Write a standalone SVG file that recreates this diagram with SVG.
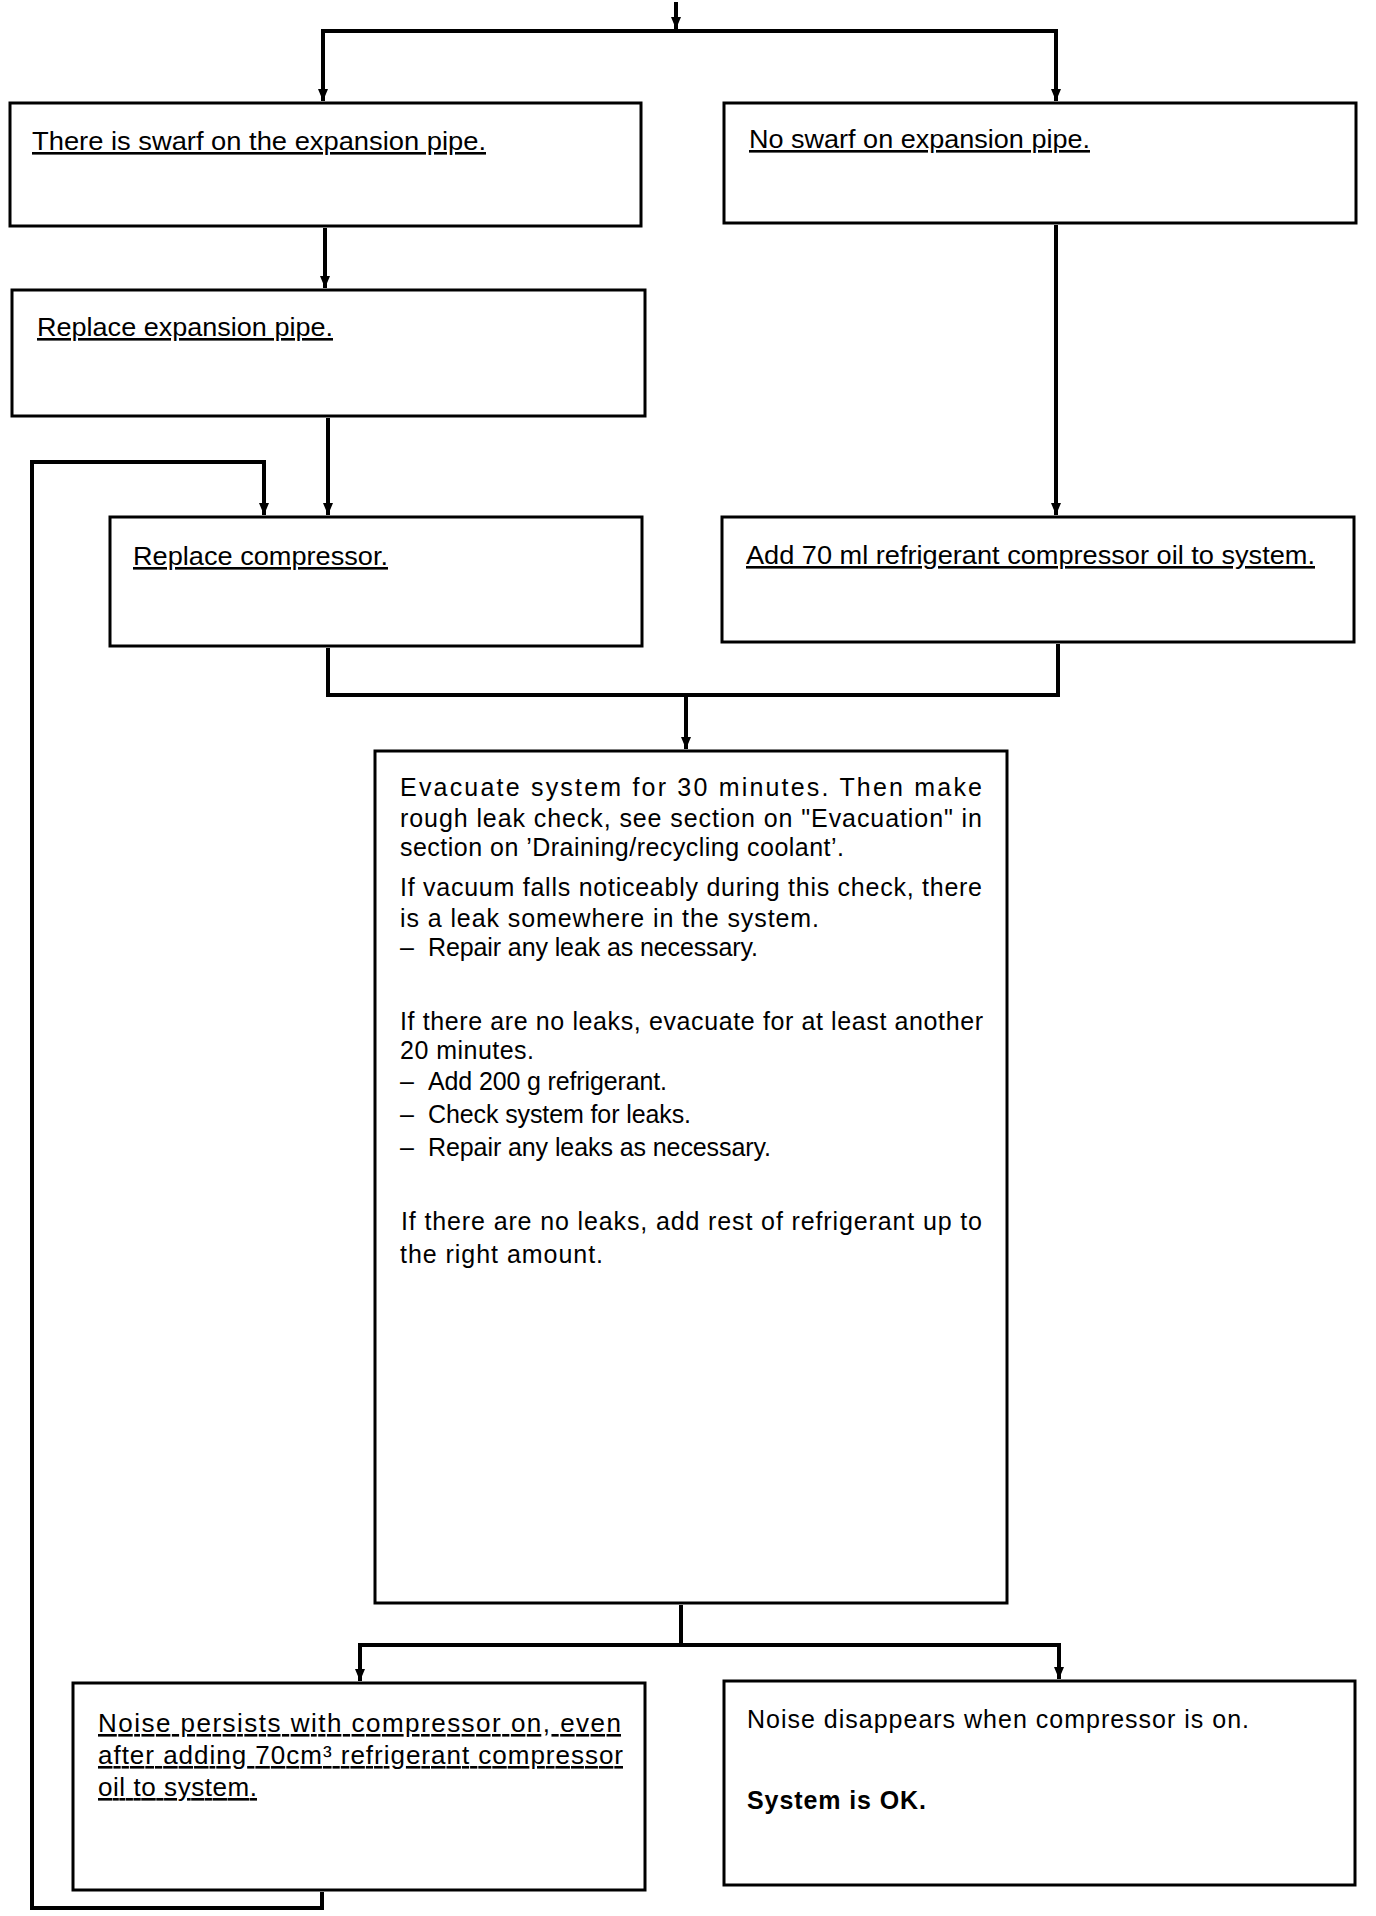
<svg xmlns="http://www.w3.org/2000/svg" width="1376" height="1916" viewBox="0 0 1376 1916">
<style>
.box{fill:#fff;stroke:#000;stroke-width:3}
.con{fill:none;stroke:#000;stroke-width:4;stroke-linejoin:miter}
.h{font-family:"Liberation Sans",Arial,sans-serif;font-size:26px;fill:#000;text-decoration:underline}
.t{font-family:"Liberation Sans",Arial,sans-serif;font-size:25px;fill:#000}
.b{font-weight:bold}
</style>
<defs>
<marker id="ah" viewBox="0 0 12 10" refX="12" refY="5" markerWidth="12" markerHeight="10" markerUnits="userSpaceOnUse" orient="auto">
<path d="M0,0 L12,5 L0,10 z" fill="#000"/>
</marker>
</defs>
<rect width="1376" height="1916" fill="#fff"/>
<g id="connectors">
<path class="con" d="M676,2 V29" marker-end="url(#ah)"/>
<path class="con" d="M676,31 H323 V101" marker-end="url(#ah)"/>
<path class="con" d="M676,31 H1056 V101" marker-end="url(#ah)"/>
<path class="con" d="M325,228 V288" marker-end="url(#ah)"/>
<path class="con" d="M328,418 V515" marker-end="url(#ah)"/>
<path class="con" d="M1056,225 V515" marker-end="url(#ah)"/>
<path class="con" d="M328,648 V695 H1058 V644"/>
<path class="con" d="M686,695 V749" marker-end="url(#ah)"/>
<path class="con" d="M681,1605 V1645 H360 V1681" marker-end="url(#ah)"/>
<path class="con" d="M681,1645 H1059 V1679" marker-end="url(#ah)"/>
<path class="con" d="M322,1892 V1908 H32 V462 H264 V515" marker-end="url(#ah)"/>
</g>
<g id="n1">
<rect class="box" x="10" y="103" width="631" height="123"/>
<text class="h" x="32" y="150" textLength="454" lengthAdjust="spacingAndGlyphs">There is swarf on the expansion pipe.</text>
</g>
<g id="n2">
<rect class="box" x="724" y="103" width="632" height="120"/>
<text class="h" x="749" y="148" textLength="341" lengthAdjust="spacingAndGlyphs">No swarf on expansion pipe.</text>
</g>
<g id="n3">
<rect class="box" x="12" y="290" width="633" height="126"/>
<text class="h" x="37" y="336" textLength="296" lengthAdjust="spacingAndGlyphs">Replace expansion pipe.</text>
</g>
<g id="n4">
<rect class="box" x="110" y="517" width="532" height="129"/>
<text class="h" x="133" y="565" textLength="255" lengthAdjust="spacingAndGlyphs">Replace compressor.</text>
</g>
<g id="n5">
<rect class="box" x="722" y="517" width="632" height="125"/>
<text class="h" x="746" y="564" textLength="569" lengthAdjust="spacingAndGlyphs">Add 70 ml refrigerant compressor oil to system.</text>
</g>
<g id="n6">
<rect class="box" x="375" y="751" width="632" height="852"/>
<text class="t" x="400" y="796" textLength="582" lengthAdjust="spacing">Evacuate system for 30 minutes.  Then make</text>
<text class="t" x="400" y="827" textLength="582" lengthAdjust="spacing">rough leak check, see section on "Evacuation" in</text>
<text class="t" x="400" y="856" textLength="444" lengthAdjust="spacing">section on ’Draining/recycling coolant’.</text>
<text class="t" x="400" y="896" textLength="582" lengthAdjust="spacing">If vacuum falls noticeably during this check, there</text>
<text class="t" x="400" y="927" textLength="419" lengthAdjust="spacing">is a leak somewhere in the system.</text>
<text class="t" x="400" y="956">–</text>
<text class="t" x="428" y="956" textLength="330" lengthAdjust="spacing">Repair any leak as necessary.</text>
<text class="t" x="400" y="1030" textLength="583" lengthAdjust="spacing">If there are no leaks, evacuate for at least another</text>
<text class="t" x="400" y="1059" textLength="134" lengthAdjust="spacing">20 minutes.</text>
<text class="t" x="400" y="1090">–</text>
<text class="t" x="428" y="1090" textLength="239" lengthAdjust="spacing">Add 200 g refrigerant.</text>
<text class="t" x="400" y="1123">–</text>
<text class="t" x="428" y="1123" textLength="263" lengthAdjust="spacing">Check system for leaks.</text>
<text class="t" x="400" y="1156">–</text>
<text class="t" x="428" y="1156" textLength="343" lengthAdjust="spacing">Repair any leaks as necessary.</text>
<text class="t" x="401" y="1230" textLength="581" lengthAdjust="spacing">If there are no leaks, add rest of refrigerant up to</text>
<text class="t" x="400" y="1263" textLength="203" lengthAdjust="spacing">the right amount.</text>
</g>
<g id="n7">
<rect class="box" x="73" y="1683" width="572" height="207"/>
<text class="h" x="98" y="1732" textLength="523" lengthAdjust="spacing">Noise persists with compressor on, even</text>
<text class="h" x="98" y="1764" textLength="525" lengthAdjust="spacing">after adding 70cm³ refrigerant compressor</text>
<text class="h" x="98" y="1796" textLength="159" lengthAdjust="spacing">oil to system.</text>
</g>
<g id="n8">
<rect class="box" x="724" y="1681" width="631" height="204"/>
<text class="t" x="747" y="1728" textLength="502" lengthAdjust="spacing">Noise disappears when compressor is on.</text>
<text class="t b" x="747" y="1809" textLength="179" lengthAdjust="spacing">System is OK.</text>
</g>
</svg>
